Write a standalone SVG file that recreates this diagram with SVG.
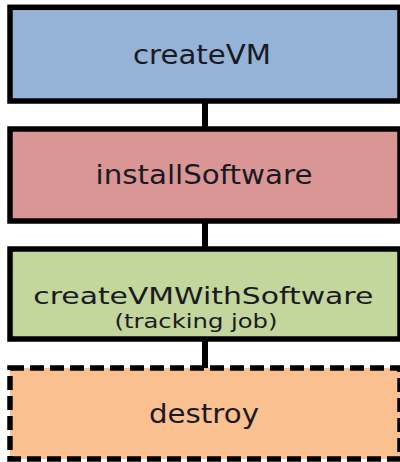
<svg xmlns="http://www.w3.org/2000/svg" width="400" height="462" viewBox="0 0 400 462">
<style>
.box{stroke:#000;stroke-width:5.5;}
.dash{stroke-dasharray:14 6;}
.lbl{font-family:"DejaVu Sans","Verdana",sans-serif;fill:#1a1a24;text-anchor:middle;}
.conn{stroke:#000;stroke-width:6;fill:none;}
</style>
<rect width="400" height="462" fill="#fff"/>
<g id="connectors">
<line class="conn" x1="205" y1="101" x2="205" y2="129"/>
<line class="conn" x1="205" y1="221" x2="205" y2="249"/>
<line class="conn" x1="205" y1="339" x2="205" y2="368"/>
</g>
<g id="createVM">
<rect class="box" x="10" y="7.3" width="390" height="93.7" fill="#95b3d7"/>
<text class="lbl" x="202" y="63.5" font-size="26" textLength="138" lengthAdjust="spacingAndGlyphs">createVM</text>
</g>
<g id="installSoftware">
<rect class="box" x="10" y="129" width="390" height="92" fill="#d99694"/>
<text class="lbl" x="204" y="184" font-size="26" textLength="217" lengthAdjust="spacingAndGlyphs">installSoftware</text>
</g>
<g id="createVMWithSoftware">
<rect class="box" x="10" y="249" width="390" height="90" fill="#c3d69b"/>
<text class="lbl" x="203.3" y="303.5" font-size="23" textLength="340" lengthAdjust="spacingAndGlyphs">createVMWithSoftware</text>
<text class="lbl" x="196" y="328" font-size="20" textLength="163" lengthAdjust="spacingAndGlyphs">(tracking job)</text>
</g>
<g id="destroy">
<rect class="box dash" x="10" y="368" width="390" height="91" fill="#fac090"/>
<text class="lbl" x="204" y="422.5" font-size="26" textLength="110" lengthAdjust="spacingAndGlyphs">destroy</text>
</g>
</svg>
